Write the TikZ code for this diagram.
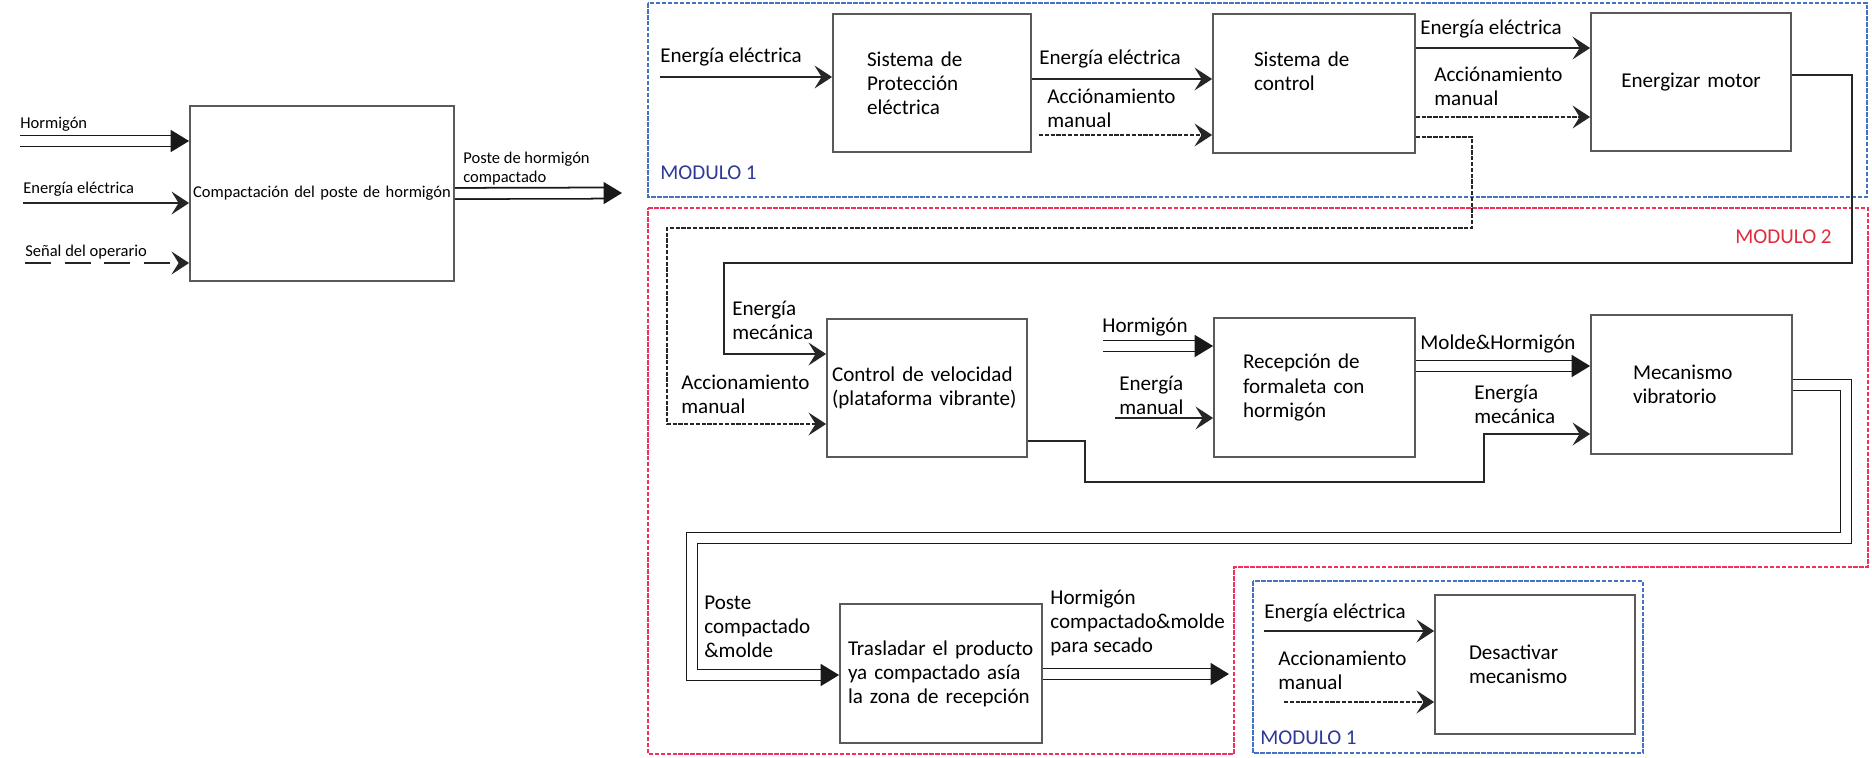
\documentclass[tikz,border=0pt]{standalone}
\usepackage{fontspec}
\setmainfont{Carlito}
\usetikzlibrary{arrows.meta}
\definecolor{modblue}{RGB}{68,114,196}
\definecolor{modbluetxt}{RGB}{46,56,150}
\definecolor{modred}{RGB}{242,48,92}
\definecolor{modredtxt}{RGB}{222,44,60}
\definecolor{boxgray}{RGB}{90,90,90}

\begin{document}
\begin{tikzpicture}[x=0.02cm, y=-0.02cm,
  font=\fontsize{12}{13.7}\selectfont,
  block/.style n args={3}{draw=boxgray, line width=1pt, minimum width=#1*0.02cm,
    minimum height=#2*0.02cm, text width=#3*0.02cm, inner sep=0pt, align=left},
  lbl/.style={anchor=west, align=left, inner sep=0pt},
  leftsz/.style={font=\fontsize{9.4}{11}\selectfont},
  flow/.style={draw=black!85, line width=0.9pt, -{Stealth[length=10pt, width=13pt, inset=4pt]}},
  dotflow/.style={flow, dash pattern=on 2.4pt off 0.9pt},
  dbl/.style={draw=black!90, line width=1pt, double=white, double distance=5.3pt,
    -{Triangle[length=10.5pt, width=12.5pt]}},
  modframe/.style={line width=0.9pt, dash pattern=on 2.6pt off 0.8pt}]
  \useasboundingbox (0,0) rectangle (1872,757);

  % overall function
  \node[block={264}{175}{264}, align=center, leftsz] (A) at (322,193.5) {Compactación del poste de hormigón};
  \coordinate (inH) at (20,141);
  \coordinate (inE) at (23,203);
  \coordinate (inS) at (25,263);
  \coordinate (outA) at (622,193);
  \draw[dbl] (inH) -- (inH -| A.west);
  \draw[flow] (inE) -- (inE -| A.west);
  \draw[flow, dash pattern=on 15pt off 7.5pt] (inS) -- (inS -| A.west);
  \draw[dbl] (A.east) -- (outA);
  \node[lbl, leftsz] (lH) at (20,124) {Hormigón};
  \node[lbl, leftsz] (lE) at (23,189) {Energía eléctrica};
  \node[lbl, leftsz] (lS) at (25,252) {Señal del operario};
  \node[lbl, leftsz] (lO) at (463,168.5) {Poste de hormigón\\compactado};

  % modules
  \draw[modframe, draw=modblue] (648,3) rectangle (1867,197);
  \node[lbl, text=modbluetxt] (m1a) at (660,173) {MODULO 1};
  \draw[modframe, draw=modred] (648,208) -- (1868,208) -- (1868,567) -- (1234,567)
    -- (1234,754) -- (648,754) -- cycle;
  \node[lbl, text=modredtxt] (m2) at (1735,237) {MODULO 2};
  \draw[modframe, draw=modblue] (1253,581) rectangle (1643,753);
  \node[lbl, text=modbluetxt] (m1b) at (1260,738) {MODULO 1};

  % blocks
  \node[block={198}{138}{130}] (P) at (932,83) {Sistema de\\Protección\\eléctrica};
  \node[block={202}{139}{120}] (C) at (1314,83.5) {Sistema de\\control\\\mbox{}};
  \node[block={200}{138}{200}, align=center] (E) at (1691,82) {Energizar motor};
  \node[block={200}{138}{190}] (CV) at (927,388) {Control de velocidad\\(plataforma vibrante)};
  \node[block={201}{139}{143}] (R) at (1314.5,387.5) {Recepción de\\formaleta con\\hormigón};
  \node[block={201}{139}{117}] (MV) at (1691.5,384.5) {Mecanismo\\vibratorio};
  \node[block={202}{139}{186}] (T) at (941,673.5) {Trasladar el producto\\ya compactado asía\\la zona de recepción};
  \node[block={200}{139}{132}] (D) at (1535,664.5) {Desactivar\\mecanismo};

  % module 1
  \coordinate (inP) at (660,77);
  \coordinate (accC) at (1039,135);
  \draw[flow] (inP) -- (inP -| P.west);
  \draw[flow] (P.east |- 0,79) -- (C.west |- 0,79);
  \draw[dotflow] (accC) -- (accC -| C.west);
  \draw[flow] (C.east |- 0,48) -- (E.west |- 0,48);
  \draw[dotflow] (C.east |- 0,117) -- (E.west |- 0,117);
  \draw[dotflow] (C.east |- 0,137) -| (1472,228) -| (667,424) -- (CV.west |- 0,424);
  \draw[flow] (E.east |- 0,75) -| (1852,263) -| (724,354) -- (CV.west |- 0,354);
  \node[lbl] (tP) at (660,57) {Energía eléctrica};
  \node[lbl] (tPC) at (1039,59) {Energía eléctrica};
  \node[lbl] (tPCa) at (1047,108) {Acciónamiento\\manual};
  \node[lbl] (tCE) at (1420,29) {Energía eléctrica};
  \node[lbl] (tCEa) at (1434,86.5) {Acciónamiento\\manual};

  % module 2
  \coordinate (inRH) at (1103,346);
  \coordinate (inRE) at (1115,418);
  \coordinate (outT) at (1229,674);
  \draw[flow] (CV.east |- 0,441) -| (1085,482) -| (1484,434) -- (MV.west |- 0,434);
  \draw[dbl] (inRH) -- (inRH -| R.west);
  \draw[flow] (inRE) -- (inRE -| R.west);
  \draw[dbl] (R.east |- 0,366) -- (MV.west |- 0,366);
  \draw[dbl] (MV.east |- 0,385) -| (1846,538) -| (692,675) -- (T.west |- 0,675);
  \draw[dbl] (T.east |- outT) -- (outT);
  \node[lbl] (tCVm) at (732,320.5) {Energía\\mecánica};
  \node[lbl] (tCVa) at (681,394.5) {Accionamiento\\manual};
  \node[lbl] (tRH) at (1102,327) {Hormigón};
  \node[lbl] (tRE) at (1119,395) {Energía\\manual};
  \node[lbl] (tMH) at (1420,344) {Molde\&Hormigón};
  \node[lbl] (tMVm) at (1474,404.5) {Energía\\mecánica};
  \node[lbl] (tTin) at (704,627) {Poste\\compactado\\\&molde};
  \node[lbl] (tTout) at (1050,623) {Hormigón\\compactado\&molde\\para secado};

  % module 1, stop
  \coordinate (inDE) at (1264,631);
  \coordinate (inDA) at (1284,702);
  \draw[flow] (inDE) -- (inDE -| D.west);
  \draw[dotflow] (inDA) -- (inDA -| D.west);
  \node[lbl] (tDE) at (1264,613) {Energía eléctrica};
  \node[lbl] (tDA) at (1278,670) {Accionamiento\\manual};
\end{tikzpicture}
\end{document}
